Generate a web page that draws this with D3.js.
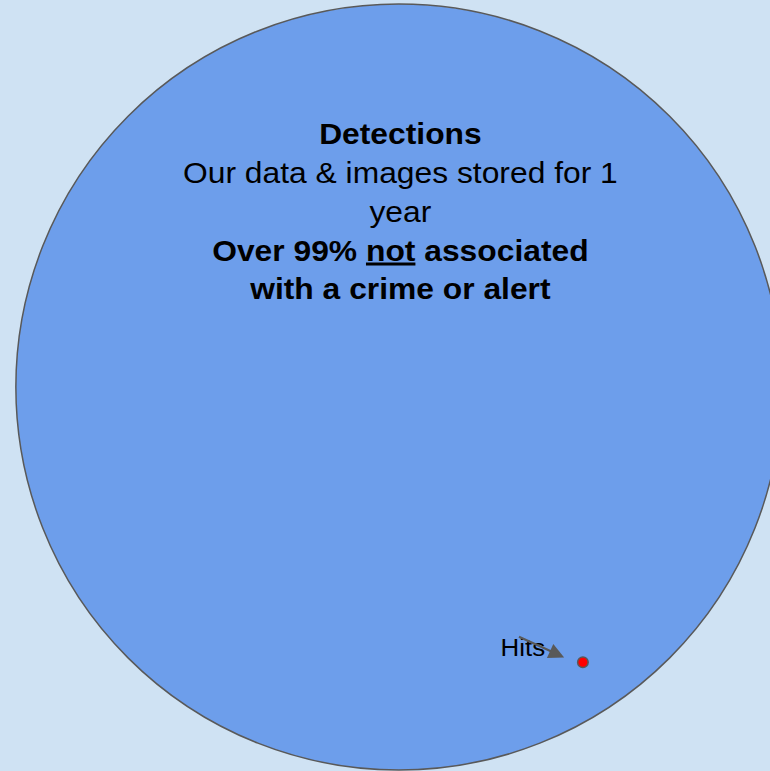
<!DOCTYPE html>
<html lang="en">
<head>
    <meta charset="utf-8">
    <title>Detections vs Hits</title>
    <script src="https://cdn.jsdelivr.net/npm/d3@7"></script>
    <style>
        html, body { margin: 0; padding: 0; background: #cfe2f3; overflow: hidden; }
        text { font-family: "Liberation Sans", Arial, sans-serif; }
    </style>
</head>
<body>
    <div id="chart"></div>
    <script>
        // categories and their relative sizes (area)
        const categories = ["Detections", "Hits"];
        const areaValues = [100, 0.019];
        // centre positions in chart units (0..1)
        const centreX = [0.518, 0.757];
        const centreY = [0.502, 0.859];
        const fills = ["#6d9eeb", "#ff0000"];

        const titleLines = [
            {text: "Detections", bold: true},
            {text: "Our data & images stored for 1", bold: false},
            {text: "year", bold: false},
            {text: "Over 99% |not| associated", bold: true},
            {text: "with a crime or alert", bold: true}
        ];
        const hitsLabel = "Hits";

        const width = 770;
        const height = 771;

        const svg = d3.select("#chart")
            .append("svg")
            .attr("width", width)
            .attr("height", height);

        const x = d3.scaleLinear().domain([0, 1]).range([0, width]);
        const y = d3.scaleLinear().domain([0, 1]).range([0, height]);
        const r = d3.scaleSqrt().domain([0, 100]).range([0, 383]);

        svg.append("defs").append("marker")
            .attr("id", "arrow")
            .attr("viewBox", "0 0 10 10")
            .attr("refX", 8).attr("refY", 5)
            .attr("markerWidth", 8).attr("markerHeight", 7)
            .attr("markerUnits", "strokeWidth")
            .attr("orient", "auto")
            .append("path")
                .attr("d", "M0,0 L10,5 L0,10 Z")
                .attr("fill", "#595959");

        svg.selectAll("circle")
            .data(categories)
            .enter()
            .append("circle")
                .attr("cx", (d, i) => x(centreX[i]))
                .attr("cy", (d, i) => y(centreY[i]))
                .attr("r", (d, i) => r(areaValues[i]))
                .attr("fill", (d, i) => fills[i])
                .attr("stroke", "#595959")
                .attr("stroke-width", 1.5);

        // title block (text in the source is slightly stretched horizontally)
        const title = svg.append("text")
            .attr("transform", `translate(${x(0.52)},0) scale(1.06,1)`)
            .attr("text-anchor", "middle")
            .attr("font-size", 30)
            .attr("fill", "#000");
        titleLines.forEach((line, i) => {
            const t = title.append("tspan")
                .attr("x", 0)
                .attr("y", y(0.187) + i * 38.8)
                .attr("font-weight", line.bold ? "bold" : "normal");
            line.text.split("|").forEach((part, j) => {
                t.append("tspan")
                    .style("text-decoration", j === 1 ? "underline" : "none")
                    .text(part);
            });
        });

        // hits label and arrow
        svg.append("text")
            .attr("transform", `translate(${x(0.650)},${y(0.851)}) scale(1.08,1)`)
            .attr("font-size", 24)
            .attr("fill", "#000")
            .text(hitsLabel);

        svg.append("line")
            .attr("x1", x(0.674)).attr("y1", y(0.826))
            .attr("x2", x(0.729)).attr("y2", y(0.851))
            .attr("stroke", "#595959")
            .attr("stroke-width", 2.2)
            .attr("marker-end", "url(#arrow)");
    </script>
</body>
</html>
